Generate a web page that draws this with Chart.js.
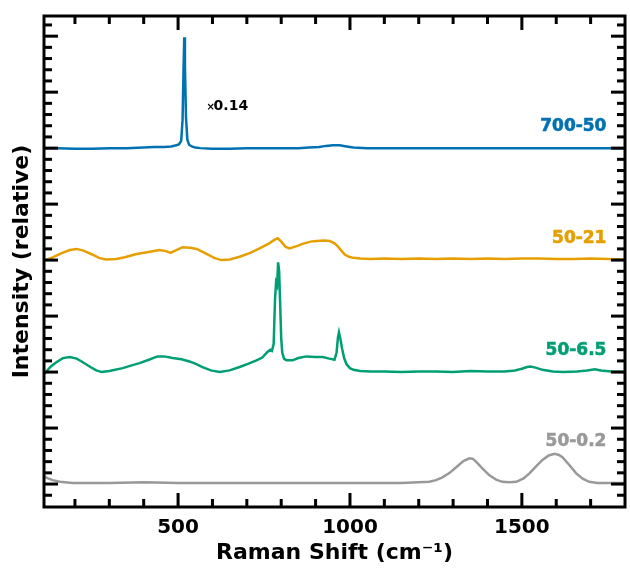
<!DOCTYPE html>
<html>
<head>
<meta charset="utf-8">
<script src="https://cdn.jsdelivr.net/npm/chart.js@4"></script>
<style>
  html, body { margin: 0; padding: 0; background: #fff; }
  #wrap { width: 630px; height: 577px; }
</style>
</head>
<body>
<div id="wrap"><canvas id="raman"></canvas></div>
<script>
// Raman spectra, offset vertically (one major y tick = 1 unit)
const seriesNames = ['700-50', '50-21', '50-6.5', '50-0.2'];
const seriesColors = ['#0072B2', '#E69F00', '#009E73', '#999999'];

// [shift cm-1, intensity]
const spec700_50 = [
  [110, 6.0], [150, 6.0], [200, 5.99], [250, 5.99], [300, 6.0], [350, 6.0], [400, 6.01],
  [430, 6.02], [460, 6.02], [480, 6.03], [495, 6.05], [503, 6.07], [509, 6.13], [513, 6.5],
  [516, 7.45], [518, 7.98], [520, 7.45], [523, 6.55], [527, 6.15], [532, 6.06], [540, 6.03],
  [550, 6.01], [565, 6.0], [600, 5.99], [650, 5.99], [700, 6.0], [750, 6.0], [800, 6.0],
  [850, 6.0], [880, 6.01], [910, 6.02], [930, 6.04], [950, 6.05], [970, 6.05], [990, 6.03],
  [1010, 6.01], [1050, 6.0], [1100, 6.0], [1200, 6.0], [1300, 6.0], [1400, 6.0], [1500, 6.0],
  [1600, 6.0], [1700, 6.0], [1800, 6.0]
];

const spec50_21 = [
  [110, 3.99], [132, 4.04], [160, 4.12], [185, 4.18], [205, 4.2], [225, 4.17], [250, 4.1],
  [270, 4.04], [290, 4.01], [320, 4.02], [345, 4.05], [379, 4.11], [410, 4.14], [446, 4.18],
  [465, 4.16], [478, 4.13], [495, 4.18], [513, 4.23], [535, 4.22], [554, 4.2], [580, 4.12],
  [605, 4.04], [626, 4.0], [650, 4.01], [679, 4.06], [710, 4.13], [737, 4.21], [765, 4.3],
  [780, 4.36], [790, 4.39], [800, 4.33], [812, 4.24], [824, 4.21], [845, 4.25], [862, 4.29],
  [885, 4.33], [903, 4.34], [925, 4.35], [941, 4.34], [955, 4.3], [964, 4.25], [975, 4.17],
  [985, 4.1], [997, 4.06], [1010, 4.04], [1030, 4.03], [1060, 4.02], [1100, 4.03], [1150, 4.02],
  [1200, 4.03], [1250, 4.02], [1300, 4.03], [1350, 4.02], [1400, 4.03], [1450, 4.02], [1500, 4.03],
  [1550, 4.03], [1600, 4.02], [1650, 4.02], [1700, 4.03], [1750, 4.02], [1800, 4.01]
];

const spec50_6_5 = [
  [110, 1.96], [118, 2.02], [130, 2.1], [147, 2.18], [165, 2.25], [185, 2.27], [205, 2.24],
  [222, 2.18], [245, 2.09], [262, 2.03], [278, 2.0], [300, 2.02], [339, 2.07], [365, 2.12],
  [388, 2.16], [415, 2.22], [440, 2.28], [460, 2.28], [484, 2.25], [510, 2.23], [533, 2.19],
  [550, 2.15], [571, 2.09], [595, 2.03], [621, 2.0], [650, 2.03], [679, 2.09], [705, 2.15],
  [728, 2.21], [745, 2.26], [760, 2.36], [768, 2.4], [773, 2.38], [778, 2.5], [782, 3.3],
  [785, 3.6], [788, 3.55], [791, 3.96], [794, 3.8], [797, 3.2], [800, 2.6], [803, 2.35],
  [808, 2.24], [815, 2.21], [833, 2.21], [850, 2.25], [873, 2.28], [900, 2.27], [921, 2.27],
  [940, 2.24], [955, 2.22], [961, 2.35], [965, 2.62], [968, 2.71], [972, 2.6], [977, 2.42],
  [983, 2.25], [990, 2.14], [1000, 2.07], [1010, 2.04], [1030, 2.02], [1060, 2.01], [1100, 2.01],
  [1150, 2.0], [1200, 2.01], [1250, 2.01], [1300, 2.0], [1350, 2.02], [1400, 2.01], [1450, 2.01],
  [1480, 2.03], [1500, 2.06], [1515, 2.09], [1525, 2.1], [1540, 2.08], [1560, 2.04], [1590, 2.01],
  [1620, 2.0], [1660, 2.01], [1690, 2.03], [1712, 2.05], [1730, 2.03], [1760, 2.01], [1800, 2.0]
];

const spec50_0_2 = [
  [110, 0.14], [118, 0.11], [135, 0.07], [156, 0.04], [193, 0.02], [250, 0.02], [300, 0.02],
  [400, 0.03], [500, 0.02], [600, 0.02], [700, 0.02], [800, 0.02], [900, 0.02], [1000, 0.02],
  [1100, 0.02], [1150, 0.02], [1200, 0.03], [1231, 0.04], [1250, 0.07], [1269, 0.12], [1290, 0.2],
  [1309, 0.3], [1330, 0.41], [1347, 0.46], [1358, 0.45], [1368, 0.39], [1385, 0.28], [1405, 0.16],
  [1425, 0.08], [1443, 0.04], [1465, 0.03], [1484, 0.04], [1505, 0.1], [1522, 0.19], [1542, 0.32],
  [1560, 0.43], [1578, 0.51], [1595, 0.54], [1608, 0.52], [1618, 0.48], [1638, 0.34], [1658, 0.19],
  [1678, 0.09], [1696, 0.04], [1720, 0.02], [1760, 0.02], [1800, 0.02]
];

const spectra = [spec700_50, spec50_21, spec50_6_5, spec50_0_2];

// tick positions: every 100 cm-1 on x, every 0.2 on y
const xTickValues = [200, 300, 400, 500, 600, 700, 800, 900, 1000, 1100, 1200, 1300, 1400, 1500, 1600, 1700];
const xTickLabels = [500, 1000, 1500];
const yTickSteps = [];
for (let k = -2; k <= 41; k++) yTickSteps.push(k);   // k * 0.2
const scaleNote = '0.14';

const FONT = '"DejaVu Sans", "Liberation Sans", Arial, sans-serif';

// frame + inward ticks on all four sides
const frameTicks = {
  id: 'frameTicks',
  afterDraw(chart) {
    const { ctx, chartArea: a, scales: { x, y } } = chart;
    ctx.save();
    ctx.fillStyle = '#000';
    xTickValues.forEach(v => {
      const px = x.getPixelForValue(v);
      const len = v % 500 === 0 ? 14 : 8;
      ctx.fillRect(px - 1.5, a.bottom - len, 3, len);
      ctx.fillRect(px - 1.5, a.top, 3, len);
    });
    yTickSteps.forEach(k => {
      const py = y.getPixelForValue(k / 5);
      if (py < a.top + 2 || py > a.bottom - 2) return;
      const len = k % 5 === 0 ? 14 : 8;
      ctx.fillRect(a.left, py - 1.5, len, 3);
      ctx.fillRect(a.right - len, py - 1.5, len, 3);
    });
    ctx.strokeStyle = '#000';
    ctx.lineWidth = 3;
    ctx.strokeRect(a.left, a.top, a.right - a.left, a.bottom - a.top);
    ctx.restore();
  }
};

// series names and the scale factor note, placed in data units
const seriesLabels = {
  id: 'seriesLabels',
  afterDatasetsDraw(chart) {
    const { ctx, scales: { x, y } } = chart;
    const labelY = [6.38, 4.39, 2.39, 0.75];
    ctx.save();
    ctx.font = 'bold 17px ' + FONT;
    ctx.textAlign = 'right';
    ctx.textBaseline = 'middle';
    ctx.lineWidth = 0.6;
    seriesNames.forEach((name, i) => {
      const tx = x.getPixelForValue(1746);
      const ty = y.getPixelForValue(labelY[i]);
      ctx.fillStyle = seriesColors[i];
      ctx.strokeStyle = seriesColors[i];
      ctx.fillText(name, tx, ty);
      ctx.strokeText(name, tx, ty);
    });
    const nx = x.getPixelForValue(583);
    const ny = y.getPixelForValue(6.75);
    ctx.fillStyle = '#000';
    ctx.textAlign = 'left';
    ctx.font = 'bold 10px ' + FONT;
    ctx.fillText('×', nx, ny + 1);
    ctx.font = 'bold 14px ' + FONT;
    ctx.fillText(scaleNote, nx + 7, ny);
    ctx.restore();
  }
};

new Chart(document.getElementById('raman'), {
  type: 'line',
  data: {
    datasets: spectra.map((s, i) => ({
      label: seriesNames[i],
      data: s.map(p => ({ x: p[0], y: p[1] })),
      borderColor: seriesColors[i],
      borderWidth: 2.5,
      pointRadius: 0,
      tension: 0,
      fill: false
    }))
  },
  options: {
    responsive: true,
    maintainAspectRatio: false,
    animation: false,
    layout: { padding: { top: 16, right: 5, left: 0, bottom: 0 } },
    plugins: { legend: { display: false }, tooltip: { enabled: false } },
    scales: {
      x: {
        type: 'linear',
        min: 110,
        max: 1800,
        grid: { display: false },
        border: { display: false },
        afterBuildTicks: s => {
          s.ticks = xTickLabels.map(v => ({ value: v }));
        },
        ticks: {
          autoSkip: false,
          maxRotation: 0,
          padding: 1,
          color: '#000',
          font: { family: FONT, size: 20, weight: 'bold' },
          callback: v => String(v)
        },
        title: {
          display: true,
          text: 'Raman Shift (cm⁻¹)',
          color: '#000',
          font: { family: FONT, size: 22, weight: 'bold' },
          padding: { top: 0, bottom: 11 }
        },
        afterFit: s => { s.height = 70; }
      },
      y: {
        min: -0.41,
        max: 8.36,
        grid: { display: false },
        border: { display: false },
        ticks: { display: false },
        title: {
          display: true,
          text: 'Intensity (relative)',
          color: '#000',
          font: { family: FONT, size: 22, weight: 'bold' },
          padding: { top: 9, bottom: 0 }
        },
        afterFit: s => { s.width = 44; }
      }
    }
  },
  plugins: [frameTicks, seriesLabels]
});
</script>
</body>
</html>
